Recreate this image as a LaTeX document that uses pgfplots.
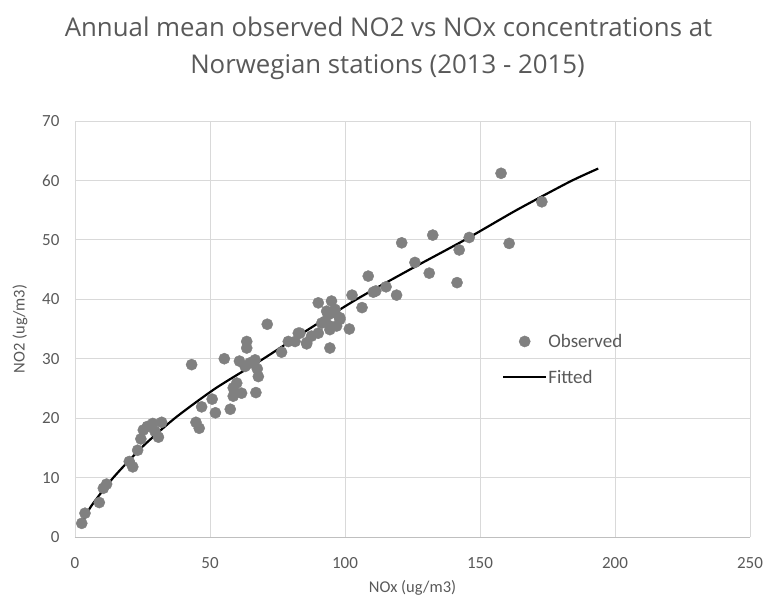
\documentclass[border=0pt]{standalone}
\usepackage{pgfplots}
\pgfplotsset{compat=1.18}
\usepackage{fontspec}
\setmainfont{Carlito}
\newfontfamily\titlefont{Open Sans}
\definecolor{txt}{HTML}{595959}
\definecolor{grd}{HTML}{D9D9D9}
\definecolor{axl}{HTML}{BFBFBF}
\definecolor{pt}{HTML}{808080}
\pgfplotsset{
  markleg/.style={legend image code/.code={\draw[##1] plot coordinates {(21.5pt,0pt)};}},
  lineleg/.style={legend image code/.code={\draw[##1] (0pt,0pt) -- (43pt,0pt);}},
}
\begin{document}
\begin{tikzpicture}
\begin{axis}[
  at={(0,0)}, anchor=south west,
  scale only axis, width=675pt, height=416pt,
  xmin=0, xmax=250, ymin=0, ymax=70,
  xtick={0,50,...,250}, ytick={0,10,...,70},
  grid=major, major grid style={draw=grd, line width=0.8pt},
  axis line style={draw=grd, line width=0.8pt},
  axis x line*=bottom, axis y line*=left,
  x axis line style={draw=axl},
  tick style={draw=none},
  /pgf/number format/assume math mode=true,
  ticklabel style={font=\fontsize{17}{19}\selectfont, text=txt},
  xticklabel style={yshift=-17pt},
  yticklabel style={xshift=-12pt},
  xlabel={NOx (ug/m3)}, ylabel={NO2 (ug/m3)},
  label style={font=\fontsize{16.5}{19}\selectfont, text=txt},
  xlabel style={at={(axis description cs:0.5,-0.1226)}, anchor=center},
  ylabel style={at={(axis description cs:-0.0815,0.5)}, anchor=center},
  legend style={draw=none, fill=none, at={(axis cs:157,29.9)}, anchor=west,
    font=\fontsize{19}{21}\selectfont, text=txt, row sep=19pt,
    nodes={inner sep=1pt}},
  legend cell align=left,
  clip=false,
]
\addplot[only marks, mark=*, mark size=5.6pt, color=pt, markleg]
coordinates {
(2.5,2.3)(3.7,4.0)(9.0,5.8)(10.5,8.2)(11.7,8.9)(20.1,12.7)(21.4,11.8)
(23.2,14.6)(24.4,16.5)(25.3,18.0)(26.8,18.6)(28.8,19.1)(29.6,17.8)(30.9,16.8)
(32.1,19.3)(43.2,29.0)(44.8,19.3)(46.0,18.3)(46.9,21.9)(50.8,23.2)(52.0,20.9)
(57.5,21.5)(55.3,30.0)(58.6,25.1)(59.9,25.9)(58.6,23.7)(61.7,24.2)(67.0,24.3)
(60.9,29.6)(63.6,32.9)(63.6,31.8)(64.8,29.3)(66.7,29.8)(67.5,28.3)(67.9,27.0)
(63.0,28.7)(71.2,35.8)(76.5,31.1)(79.0,32.9)(82.7,34.3)(81.5,32.9)(85.8,32.5)
(87.6,33.8)(90.1,39.4)(94.4,31.8)(95.0,39.7)(91.4,36.0)(93.8,37.4)(96.3,37.7)
(98.1,36.6)(94.4,34.9)(90.1,34.3)(96.9,35.5)(101.6,35.0)(102.6,40.7)(106.3,38.6)
(110.5,41.2)(108.6,43.9)(111.4,41.4)(115.2,42.1)(119.1,40.7)(121.0,49.5)
(132.5,50.8)(146.0,50.4)(142.3,48.3)(125.9,46.2)(131.2,44.4)(141.5,42.8)
(160.8,49.4)(172.9,56.4)(157.8,61.2)(93.2,38.0)(96.3,38.3)(98.1,36.9)
(92.6,36.3)(94.4,35.5)(83.3,34.3)(85.8,32.7)
};
\addlegendentry{Observed}
\addplot[black, line width=2.2pt, smooth, tension=0.4, no marks, lineleg]
coordinates {
(2.2,2.0)(6,5.2)(14.2,10)(25,15.2)(37,20)(52,25)(69.8,30)(86,34.8)
(104.3,40)(124,45)(144.4,50)(163.5,55)(183.3,59.8)(193.8,62.0)
};
\addlegendentry{Fitted}
\end{axis}
\node[font=\titlefont\fontsize{25.8}{30}\selectfont, text=txt, anchor=base]
  at (313.5pt,500pt) {Annual mean observed NO2 vs NOx concentrations at};
\node[font=\titlefont\fontsize{25.8}{30}\selectfont, text=txt, anchor=base]
  at (312.5pt,463.7pt) {Norwegian stations (2013 - 2015)};
\pgfresetboundingbox
\path (-75pt,-68pt) rectangle (693pt,537pt);
\end{tikzpicture}
\end{document}
